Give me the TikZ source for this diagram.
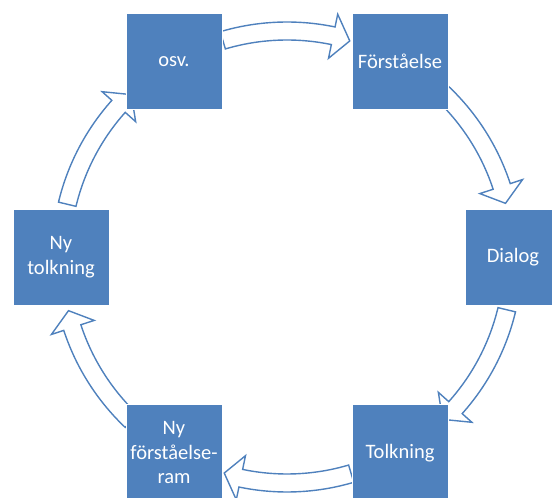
\documentclass[tikz,border=0pt]{standalone}
\usepackage{fontspec}
\setmainfont{Carlito}
\definecolor{sablue}{RGB}{79,129,189}
\tikzset{
  box/.style={rectangle, fill=sablue, draw=white, line width=0.8pt, minimum width=96pt, minimum height=96pt,
    inner sep=1pt, text=white, align=center, font=\fontsize{20.5}{24.5}\selectfont},
  blockarrow/.style={fill=white, draw=sablue, line width=1.4pt, line join=miter}
}
% #1 = mid angle of the arrow (clockwise)
\newcommand{\cyclearrow}[1]{%
  \pgfmathsetmacro{\as}{#1+16.5}%
  \pgfmathsetmacro{\ab}{#1-11.8}%
  \pgfmathsetmacro{\at}{#1-16.2}%
  \draw[blockarrow] (\as:235pt) arc[start angle=\as, end angle=\ab, radius=235pt]
    -- (\ab:248pt) -- (\at:225pt) -- (\ab:203pt) -- (\ab:217pt)
    arc[start angle=\ab, end angle=\as, radius=217pt] -- cycle;%
}
\begin{document}
\begin{tikzpicture}
\useasboundingbox (0,0) rectangle (552pt,498pt);
\clip (0,0) rectangle (552pt,498pt);
\begin{scope}[shift={(287pt,241pt)}]
  \coordinate (C) at (0,0);
  \cyclearrow{90}
  \cyclearrow{30}
  \cyclearrow{-30}
  \cyclearrow{-90}
  \cyclearrow{-150}
  \cyclearrow{150}
  \node[box] (osv) at (120:226pt) {osv.};
  \node[box] (forst) at (60:226pt) {Förståelse};
  \node[box] (dialog) at (0:226pt) {Dialog};
  \node[box] (tolk) at (-60:226pt) {Tolkning};
  \node[box] (nyram) at (-120:226pt) {Ny\\förståelse-\\ram};
  \node[box] (nytolk) at (180:226pt) {Ny\\tolkning};
\end{scope}
\end{tikzpicture}
\end{document}
